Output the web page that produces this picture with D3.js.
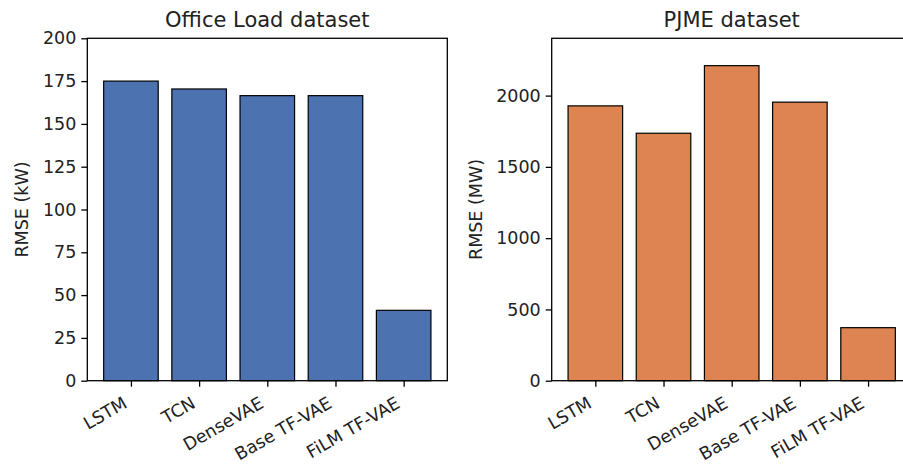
<!DOCTYPE html>
<html><head><meta charset="utf-8">
<script src="https://cdn.jsdelivr.net/npm/d3@7"></script>
<style>
body{margin:0;background:#fff;}
svg{display:block;font-family:"DejaVu Sans",sans-serif;}
</style></head>
<body><svg id="c" width="903" height="465"></svg>
<script>
const categories = ["LSTM","TCN","DenseVAE","Base TF-VAE","FiLM TF-VAE"];
const officeValues = [175.0, 170.4, 166.5, 166.5, 41.1];
const pjmeValues = [1928, 1736, 2210, 1954, 372];
const officeTicks = [0,25,50,75,100,125,150,175,200];
const pjmeTicks = [0,500,1000,1500,2000];
const titles = ["Office Load dataset","PJME dataset"];
const yLabels = ["RMSE (kW)","RMSE (MW)"];
const colors = ["#4c72b0","#dd8452"];

const svg = d3.select("#c");
const yTop = 38.3, yBot = 380.7;
const panels = [
  {x0:87.3, x1:447.3, vals:officeValues, ticks:officeTicks, ymax:200, title:titles[0], ylab:yLabels[0], color:colors[0], ylabX:22},
  {x0:551.7, x1:911.7, vals:pjmeValues, ticks:pjmeTicks, ymax:2402, title:titles[1], ylab:yLabels[1], color:colors[1], ylabX:476}
];
const fs = 17.5;
panels.forEach(p=>{
  const x = d3.scaleLinear().domain([-0.64, 4.64]).range([p.x0, p.x1]);
  const y = d3.scaleLinear().domain([0, p.ymax]).range([yBot, yTop]);
  const g = svg.append("g");
  g.selectAll("rect.bar").data(p.vals).join("rect")
    .attr("x",(d,i)=>x(i-0.4)).attr("width",x(0.8)-x(0))
    .attr("y",d=>y(d)).attr("height",d=>y(0)-y(d))
    .attr("fill",p.color).attr("stroke","#000").attr("stroke-width",1.2);
  g.append("rect").attr("x",p.x0).attr("y",yTop).attr("width",p.x1-p.x0).attr("height",yBot-yTop)
    .attr("fill","none").attr("stroke","#000").attr("stroke-width",1.3);
  const ya = d3.axisLeft(y).tickValues(p.ticks).tickSize(6).tickPadding(5).tickFormat(d3.format("d"));
  const yg = g.append("g").attr("transform",`translate(${p.x0},0)`).call(ya);
  yg.select(".domain").remove();
  yg.selectAll("line").attr("stroke","#000").attr("stroke-width",1.3);
  yg.selectAll("text").attr("font-size",fs).attr("fill","#222").attr("font-family","DejaVu Sans");
  const xa = d3.axisBottom(x).tickValues(d3.range(categories.length)).tickSize(6).tickFormat(i=>categories[i]);
  const xg = g.append("g").attr("transform",`translate(0,${yBot})`).call(xa);
  xg.select(".domain").remove();
  xg.selectAll("line").attr("stroke","#000").attr("stroke-width",1.3);
  xg.selectAll("text").attr("font-size",fs).attr("fill","#222").attr("font-family","DejaVu Sans")
    .attr("text-anchor","end").attr("y",null).attr("dy",null)
    .attr("transform","translate(-3,26) rotate(-30)");
  svg.append("text").attr("x",(p.x0+p.x1)/2).attr("y",27).attr("text-anchor","middle")
    .attr("font-size",21).attr("fill","#222").text(p.title);
  svg.append("text").attr("transform",`translate(${p.ylabX+6},${(yTop+yBot)/2}) rotate(-90)`)
    .attr("text-anchor","middle").attr("font-size",fs).attr("fill","#222").text(p.ylab);
});
</script></body></html>
